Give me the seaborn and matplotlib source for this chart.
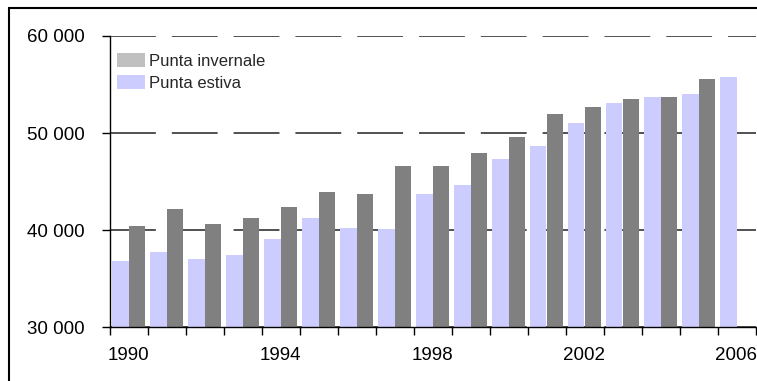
import numpy as np
import pandas as pd
import matplotlib
matplotlib.use("Agg")
import matplotlib.pyplot as plt
import seaborn as sns
from matplotlib.patches import Patch, Rectangle
from matplotlib.ticker import FuncFormatter, FixedLocator

# Peak electricity demand (MW), summer and winter, 1990-2006
years = [str(y) for y in range(1990, 2007)]
estiva = [36800, 37750, 37050, 37450, 39100, 41250, 40250, 40150, 43750,
          44650, 47350, 48700, 51050, 53100, 53750, 54050, 55800]
invernale = [40450, 42200, 40650, 41250, 42400, 43950, 43750, 46650, 46650,
             47950, 49600, 52000, 52700, 53550, 53750, 55600, np.nan]
year_labels = ["1990", "1994", "1998", "2002", "2006"]
y_ticks = [30000, 40000, 50000, 60000]

series = ["Punta estiva", "Punta invernale"]
colors = {"Punta estiva": "#CCCCFF", "Punta invernale": "#808080"}
legend_colors = {"Punta invernale": "#C0C0C0", "Punta estiva": "#CCCCFF"}

df = pd.DataFrame({
    "Anno": years * 2,
    "Serie": [series[0]] * len(years) + [series[1]] * len(years),
    "MW": estiva + invernale,
})

sns.set_theme(style="white")
plt.rcParams["font.family"] = ["Liberation Sans", "DejaVu Sans"]
plt.rcParams["lines.scale_dashes"] = False

fig = plt.figure(figsize=(7.57, 3.81), dpi=100)
W, H = 757, 381
ax = fig.add_axes([109.5 / W, (H - 327.3) / H, (755.5 - 109.5) / W, (327.3 - 36) / H])

sns.barplot(data=df, x="Anno", y="MW", hue="Serie", hue_order=series,
            palette=colors, saturation=1, width=0.85, gap=0,
            errorbar=None, linewidth=0, legend=False, ax=ax)

ax.set_ylim(30000, 60000)
ax.set_xlim(-0.5, len(years) - 0.5)
ax.set_xlabel("")
ax.set_ylabel("")

# y axis: space as thousands separator, dashed horizontal grid
ax.set_yticks(y_ticks)
ax.yaxis.set_major_formatter(FuncFormatter(lambda v, p: f"{v:,.0f}".replace(",", " ")))
ax.tick_params(axis="y", length=6, width=1, color="black", direction="out",
               pad=12, labelsize=13.5, labelcolor="black", left=True)
ax.set_axisbelow(True)
ax.yaxis.grid(True, color="#333333", linewidth=1.2, linestyle=(0, (33, 11.5)))
ax.xaxis.grid(False)

# x axis: tick marks between years, labels every four years
label_pos = [years.index(y) for y in year_labels]
ax.xaxis.set_major_locator(FixedLocator(label_pos))
ax.set_xticklabels(year_labels)
ax.xaxis.set_minor_locator(FixedLocator(np.arange(-0.5, len(years), 1.0)))
ax.tick_params(axis="x", which="major", length=0, pad=14.5, labelsize=13.5,
               labelcolor="black", bottom=True)
ax.tick_params(axis="x", which="minor", length=6, width=1, color="black",
               direction="out", bottom=True)

for side in ["top", "right"]:
    ax.spines[side].set_visible(False)
for side in ["left", "bottom"]:
    ax.spines[side].set_color("black")
    ax.spines[side].set_linewidth(1)

handles = [Patch(facecolor=legend_colors[k], edgecolor="none", label=k)
           for k in ["Punta invernale", "Punta estiva"]]
ax.legend(handles=handles, loc="upper left", bbox_to_anchor=(0.0116, 0.94),
          frameon=False, fontsize=12, handlelength=1.7, handleheight=0.9,
          handletextpad=0.25, labelspacing=0.35, borderpad=0, borderaxespad=0)

# outer frame of the figure
fig.add_artist(Rectangle((9.3 / W, -0.2), 1.2, (H - 8.3) / H + 0.2,
                         transform=fig.transFigure, fill=False,
                         edgecolor="black", linewidth=1.5))

fig.savefig("out.png", dpi=100)
